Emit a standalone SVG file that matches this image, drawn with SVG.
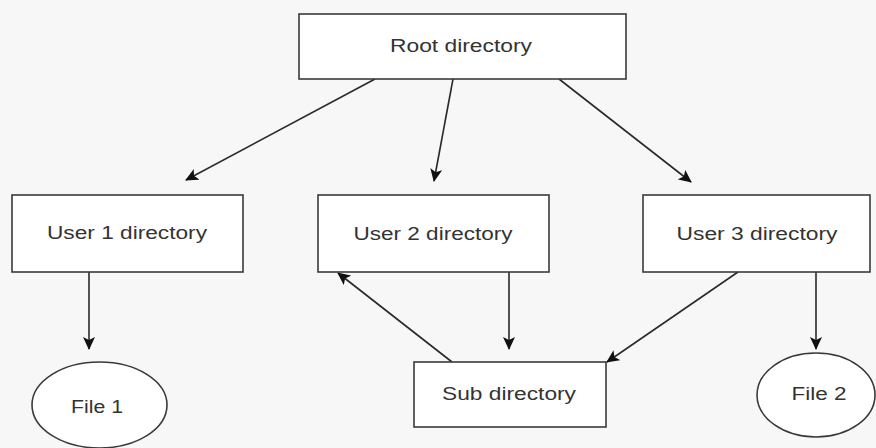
<svg xmlns="http://www.w3.org/2000/svg" width="876" height="448" viewBox="0 0 876 448">
  <style>
    .box { fill: #ffffff; stroke: #3a3a3a; stroke-width: 1.6; }
    .lbl { font-family: "Liberation Sans", Arial, sans-serif; font-size: 17.5px; fill: #333333; text-anchor: middle; }
    .edge { stroke: #2a2a2a; stroke-width: 1.6; fill: none; marker-end: url(#arrow); }
  </style>
  <defs>
    <marker id="arrow" markerWidth="14" markerHeight="12" refX="12" refY="6" orient="auto" markerUnits="userSpaceOnUse">
      <path d="M0,0 L13,6 L0,12 L3,6 Z" fill="#111111"/>
    </marker>
  </defs>
  <rect width="876" height="448" fill="#f7f7f7"/>

  <g id="connectors">
    <line class="edge" x1="375" y1="79" x2="186" y2="180"/>
    <line class="edge" x1="453" y1="79" x2="434" y2="181"/>
    <line class="edge" x1="559" y1="79" x2="691" y2="182"/>
    <line class="edge" x1="89" y1="272" x2="89" y2="349"/>
    <line class="edge" x1="509" y1="272" x2="509" y2="349"/>
    <line class="edge" x1="816" y1="272" x2="816" y2="349"/>
    <line class="edge" x1="452" y1="362" x2="338" y2="273"/>
    <line class="edge" x1="738" y1="272" x2="607" y2="362"/>
  </g>

  <g id="root">
    <rect class="box" x="299" y="14" width="327" height="65"/>
    <text class="lbl" x="461" y="52" textLength="142" lengthAdjust="spacingAndGlyphs">Root directory</text>
  </g>
  <g id="user1">
    <rect class="box" x="12" y="195" width="231" height="77"/>
    <text class="lbl" x="127" y="239" textLength="160" lengthAdjust="spacingAndGlyphs">User 1 directory</text>
  </g>
  <g id="user2">
    <rect class="box" x="318" y="195" width="231" height="77"/>
    <text class="lbl" x="433" y="240" textLength="159" lengthAdjust="spacingAndGlyphs">User 2 directory</text>
  </g>
  <g id="user3">
    <rect class="box" x="643" y="195" width="227" height="77"/>
    <text class="lbl" x="757" y="240" textLength="161" lengthAdjust="spacingAndGlyphs">User 3 directory</text>
  </g>
  <g id="sub">
    <rect class="box" x="414" y="362" width="192" height="65"/>
    <text class="lbl" x="509" y="400" textLength="134" lengthAdjust="spacingAndGlyphs">Sub directory</text>
  </g>
  <g id="file1">
    <ellipse class="box" cx="99.5" cy="405" rx="67.5" ry="43"/>
    <text class="lbl" x="97" y="413" textLength="52" lengthAdjust="spacingAndGlyphs">File 1</text>
  </g>
  <g id="file2">
    <ellipse class="box" cx="816" cy="395" rx="59" ry="42"/>
    <text class="lbl" x="819" y="400" textLength="55" lengthAdjust="spacingAndGlyphs">File 2</text>
  </g>
</svg>
